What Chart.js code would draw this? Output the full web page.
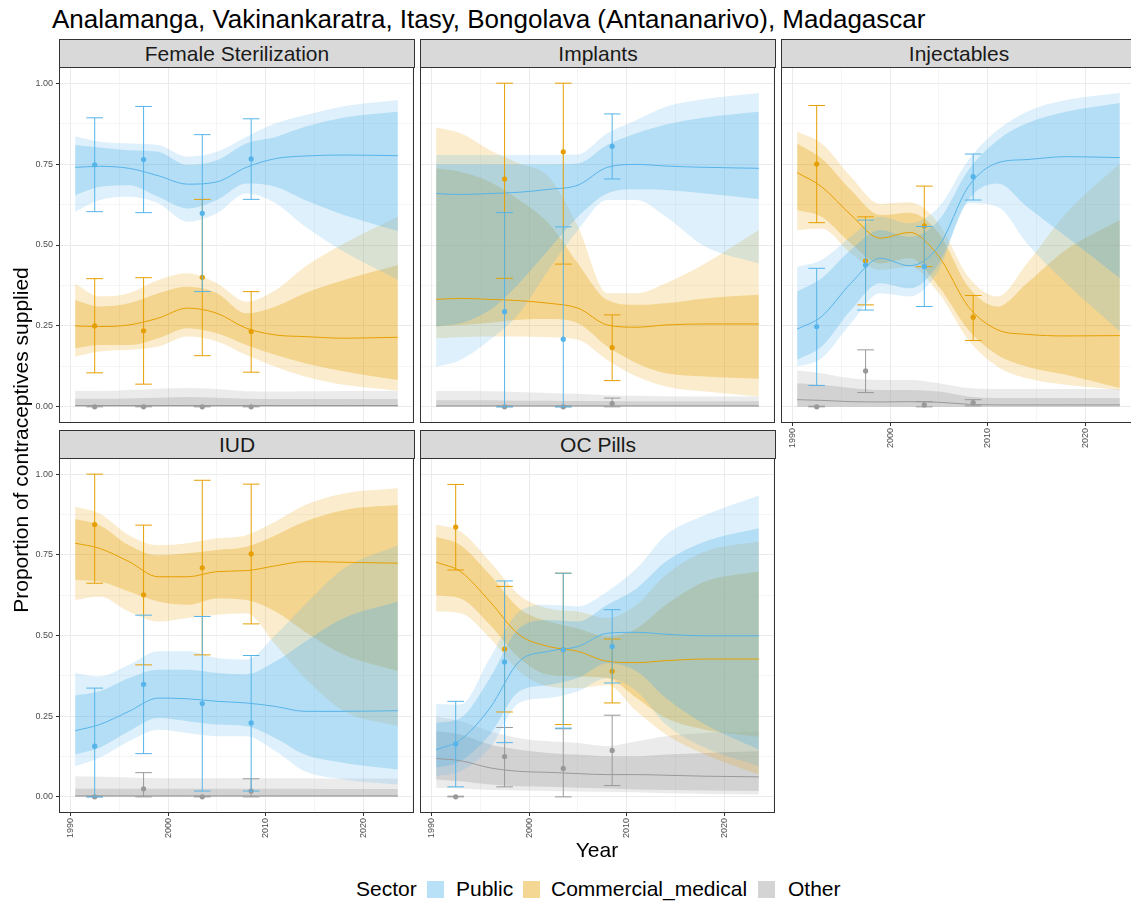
<!DOCTYPE html>
<html>
<head>
<meta charset="utf-8">
<title>Contraceptives supplied by sector</title>
<script src="https://cdn.jsdelivr.net/npm/chart.js@4.4.1/dist/chart.umd.min.js"></script>
<style>
  body { margin: 0; background: #fff; font-family: 'Liberation Sans', Arial, sans-serif; }
  #page { position: relative; width: 1131px; height: 902px; overflow: hidden; background: #fff; }
  canvas { position: absolute; }
  .strip { position: absolute; box-sizing: border-box; height: 29px; width: 356px; border: 1px solid #333; background: #d9d9d9; color: #1a1a1a; font-size: 21px; line-height: 27px; text-align: center; white-space: nowrap; overflow: hidden; }
  .txt { position: absolute; font-size: 21px; line-height: 24px; color: #000; white-space: nowrap; }
  .key { position: absolute; width: 17px; height: 17px; }
</style>
</head>
<body>
<div id="page">
  <div class="txt" style="left:52px; top:4px; font-size:26px; line-height:30px;">Analamanga, Vakinankaratra, Itasy, Bongolava (Antananarivo), Madagascar</div>

  <div class="strip" id="s1" style="left:59px; top:39px;"></div>
  <div class="strip" id="s2" style="left:420px; top:39px;"></div>
  <div class="strip" id="s3" style="left:781px; top:39px;"></div>
  <div class="strip" id="s4" style="left:59px; top:430px;"></div>
  <div class="strip" id="s5" style="left:420px; top:430px;"></div>

  <canvas id="c1" width="395" height="356" style="left:19px; top:67px;"></canvas>
  <canvas id="c2" width="355" height="356" style="left:420px; top:67px;"></canvas>
  <canvas id="c3" width="355" height="386" style="left:781px; top:67px;"></canvas>
  <canvas id="c4" width="395" height="385" style="left:19px; top:458px;"></canvas>
  <canvas id="c5" width="355" height="385" style="left:420px; top:458px;"></canvas>

  <div class="txt" style="left:-279px; top:428px; width:600px; text-align:center; transform:rotate(-90deg);">Proportion of contraceptives supplied</div>
  <div class="txt" style="left:497px; top:838px; width:200px; text-align:center;">Year</div>

  <div class="txt" style="left:356px; top:877px;">Sector</div>
  <div class="key" id="k1" style="left:427px; top:881px;"></div>
  <div class="txt" style="left:456px; top:877px;">Public</div>
  <div class="key" id="k2" style="left:523px; top:881px;"></div>
  <div class="txt" style="left:551px; top:877px;">Commercial_medical</div>
  <div class="key" id="k3" style="left:758px; top:881px;"></div>
  <div class="txt" style="left:788px; top:877px;">Other</div>
</div>

<script>
// ---- data ----
const methods = ['Female Sterilization', 'Implants', 'Injectables', 'IUD', 'OC Pills'];
const sectors = ['Public', 'Commercial_medical', 'Other'];
const years = [1990.5, 1993, 1996, 1999, 2002, 2005, 2008, 2011, 2014, 2018, 2023.5];
const surveyYears = [1992.5, 1997.5, 2003.5, 2008.5];
const yearTicks = [1990, 2000, 2010, 2020];
const propTicks = [0, 0.25, 0.5, 0.75, 1];

// Female Sterilization
const fsPubMed  = [0.740, 0.743, 0.737, 0.714, 0.688, 0.695, 0.740, 0.767, 0.775, 0.778, 0.776];
const fsPubLo80 = [0.654, 0.680, 0.685, 0.649, 0.613, 0.639, 0.690, 0.680, 0.639, 0.593, 0.543];
const fsPubHi80 = [0.809, 0.801, 0.793, 0.788, 0.747, 0.762, 0.814, 0.834, 0.865, 0.894, 0.912];
const fsPubLo95 = [0.603, 0.639, 0.649, 0.629, 0.572, 0.598, 0.659, 0.629, 0.557, 0.479, 0.392];
const fsPubHi95 = [0.836, 0.819, 0.814, 0.809, 0.773, 0.788, 0.834, 0.876, 0.901, 0.929, 0.948];
const fsComMed  = [0.250, 0.248, 0.253, 0.274, 0.305, 0.289, 0.243, 0.222, 0.217, 0.212, 0.215];
const fsComLo80 = [0.181, 0.191, 0.191, 0.212, 0.243, 0.227, 0.191, 0.160, 0.135, 0.109, 0.083];
const fsComHi80 = [0.330, 0.310, 0.320, 0.351, 0.371, 0.351, 0.289, 0.310, 0.351, 0.392, 0.438];
const fsComLo95 = [0.155, 0.171, 0.176, 0.186, 0.217, 0.202, 0.160, 0.124, 0.094, 0.068, 0.050];
const fsComHi95 = [0.380, 0.341, 0.351, 0.392, 0.413, 0.382, 0.325, 0.361, 0.433, 0.505, 0.587];
const fsOthMed  = [0.004, 0.004, 0.004, 0.004, 0.004, 0.004, 0.004, 0.004, 0.004, 0.004, 0.004];
const fsOthLo80 = [0, 0, 0, 0, 0, 0, 0, 0, 0, 0, 0];
const fsOthHi80 = [0.025, 0.025, 0.026, 0.028, 0.030, 0.028, 0.025, 0.024, 0.024, 0.024, 0.024];
const fsOthLo95 = [0, 0, 0, 0, 0, 0, 0, 0, 0, 0, 0];
const fsOthHi95 = [0.049, 0.049, 0.052, 0.056, 0.058, 0.055, 0.048, 0.047, 0.048, 0.049, 0.050];
const fsPubObs = [0.748, 0.764, 0.598, 0.766];
const fsPubLo  = [0.603, 0.600, 0.356, 0.641];
const fsPubHi  = [0.893, 0.928, 0.841, 0.890];
const fsComObs = [0.250, 0.235, 0.400, 0.233];
const fsComLo  = [0.105, 0.070, 0.158, 0.107];
const fsComHi  = [0.396, 0.399, 0.641, 0.356];
const fsOthObs = [0, 0, 0, 0];
const fsOthLo  = [0, 0, 0, 0];
const fsOthHi  = [0.003, 0.003, 0.003, 0.003];

// Implants
const impPubMed  = [0.659, 0.656, 0.659, 0.663, 0.672, 0.685, 0.740, 0.749, 0.744, 0.740, 0.737];
const impPubLo80 = [0.248, 0.258, 0.299, 0.382, 0.485, 0.587, 0.659, 0.672, 0.670, 0.659, 0.642];
const impPubHi80 = [0.749, 0.749, 0.749, 0.749, 0.749, 0.752, 0.809, 0.845, 0.872, 0.894, 0.912];
const impPubLo95 = [0.124, 0.145, 0.207, 0.289, 0.423, 0.546, 0.639, 0.639, 0.587, 0.495, 0.443];
const impPubHi95 = [0.778, 0.778, 0.778, 0.778, 0.778, 0.780, 0.845, 0.886, 0.927, 0.951, 0.970];
const impComMed  = [0.332, 0.335, 0.332, 0.328, 0.320, 0.305, 0.253, 0.246, 0.253, 0.256, 0.256];
const impComLo80 = [0.248, 0.253, 0.260, 0.269, 0.271, 0.258, 0.186, 0.135, 0.104, 0.094, 0.087];
const impComHi80 = [0.737, 0.726, 0.695, 0.639, 0.567, 0.443, 0.330, 0.315, 0.320, 0.335, 0.346];
const impComLo95 = [0.212, 0.215, 0.217, 0.217, 0.215, 0.207, 0.145, 0.094, 0.063, 0.047, 0.032];
const impComHi95 = [0.863, 0.845, 0.793, 0.752, 0.711, 0.557, 0.351, 0.351, 0.382, 0.443, 0.546];
const impOthMed  = [0.003, 0.003, 0.003, 0.003, 0.003, 0.003, 0.003, 0.003, 0.003, 0.003, 0.003];
const impOthLo80 = [0, 0, 0, 0, 0, 0, 0, 0, 0, 0, 0];
const impOthHi80 = [0.020, 0.020, 0.020, 0.019, 0.019, 0.018, 0.018, 0.017, 0.017, 0.017, 0.017];
const impOthLo95 = [0, 0, 0, 0, 0, 0, 0, 0, 0, 0, 0];
const impOthHi95 = [0.049, 0.049, 0.048, 0.046, 0.043, 0.040, 0.036, 0.034, 0.033, 0.032, 0.032];
const impPubObs = [null, 0.294, 0.209, 0.805];
const impPubLo  = [null, 0.000, 0.000, 0.704];
const impPubHi  = [null, 0.600, 0.556, 0.905];
const impComObs = [null, 0.704, 0.788, 0.183];
const impComLo  = [null, 0.397, 0.441, 0.081];
const impComHi  = [null, 1.000, 1.000, 0.284];
const impOthObs = [null, 0, 0, 0.010];
const impOthLo  = [null, 0, 0, 0];
const impOthHi  = [null, 0.002, 0.002, 0.027];

// Injectables
const injPubMed  = [0.240, 0.279, 0.382, 0.459, 0.436, 0.497, 0.680, 0.754, 0.764, 0.773, 0.770];
const injPubLo80 = [0.145, 0.186, 0.299, 0.382, 0.366, 0.443, 0.639, 0.690, 0.618, 0.526, 0.397];
const injPubHi80 = [0.356, 0.397, 0.485, 0.546, 0.525, 0.577, 0.731, 0.824, 0.876, 0.912, 0.939];
const injPubLo95 = [0.124, 0.150, 0.258, 0.351, 0.341, 0.423, 0.629, 0.618, 0.505, 0.382, 0.233];
const injPubHi95 = [0.433, 0.454, 0.526, 0.587, 0.567, 0.618, 0.762, 0.855, 0.912, 0.948, 0.970];
const injComMed  = [0.724, 0.680, 0.593, 0.521, 0.539, 0.464, 0.310, 0.238, 0.224, 0.219, 0.220];
const injComLo80 = [0.608, 0.587, 0.505, 0.443, 0.459, 0.371, 0.238, 0.160, 0.124, 0.099, 0.058];
const injComHi80 = [0.814, 0.767, 0.670, 0.593, 0.600, 0.536, 0.371, 0.310, 0.382, 0.485, 0.577];
const injComLo95 = [0.546, 0.551, 0.474, 0.423, 0.433, 0.351, 0.207, 0.124, 0.088, 0.068, 0.052];
const injComHi95 = [0.850, 0.814, 0.711, 0.627, 0.632, 0.565, 0.402, 0.341, 0.443, 0.598, 0.752];
const injOthMed  = [0.022, 0.020, 0.016, 0.015, 0.016, 0.014, 0.008, 0.006, 0.006, 0.006, 0.006];
const injOthLo80 = [0, 0, 0, 0, 0, 0, 0, 0, 0, 0, 0];
const injOthHi80 = [0.073, 0.068, 0.058, 0.052, 0.052, 0.047, 0.032, 0.027, 0.027, 0.027, 0.027];
const injOthLo95 = [0, 0, 0, 0, 0, 0, 0, 0, 0, 0, 0];
const injOthHi95 = [0.112, 0.104, 0.088, 0.083, 0.083, 0.073, 0.058, 0.055, 0.055, 0.055, 0.055];
const injPubObs = [0.248, 0.438, 0.433, 0.711];
const injPubLo  = [0.066, 0.299, 0.310, 0.639];
const injPubHi  = [0.428, 0.577, 0.557, 0.781];
const injComObs = [0.750, 0.451, 0.559, 0.277];
const injComLo  = [0.569, 0.315, 0.433, 0.205];
const injComHi  = [0.931, 0.587, 0.682, 0.344];
const injOthObs = [0, 0.111, 0.006, 0.013];
const injOthLo  = [0, 0.044, 0, 0.003];
const injOthHi  = [0.002, 0.176, 0.016, 0.022];

// IUD
const iudPubMed  = [0.205, 0.224, 0.265, 0.306, 0.304, 0.296, 0.291, 0.280, 0.265, 0.265, 0.267];
const iudPubLo80 = [0.131, 0.152, 0.203, 0.244, 0.234, 0.224, 0.219, 0.182, 0.131, 0.105, 0.085];
const iudPubHi80 = [0.314, 0.327, 0.368, 0.394, 0.394, 0.384, 0.380, 0.420, 0.481, 0.554, 0.605];
const iudPubLo95 = [0.095, 0.121, 0.172, 0.208, 0.198, 0.188, 0.188, 0.141, 0.079, 0.054, 0.038];
const iudPubHi95 = [0.384, 0.373, 0.409, 0.451, 0.451, 0.430, 0.425, 0.502, 0.595, 0.708, 0.780];
const iudComMed  = [0.786, 0.770, 0.729, 0.682, 0.682, 0.698, 0.701, 0.716, 0.729, 0.727, 0.724];
const iudComLo80 = [0.672, 0.667, 0.636, 0.605, 0.595, 0.615, 0.610, 0.574, 0.512, 0.440, 0.389];
const iudComHi80 = [0.861, 0.842, 0.780, 0.749, 0.755, 0.765, 0.775, 0.811, 0.853, 0.889, 0.904];
const iudComLo95 = [0.610, 0.621, 0.574, 0.543, 0.554, 0.564, 0.569, 0.471, 0.368, 0.265, 0.219];
const iudComHi95 = [0.899, 0.878, 0.811, 0.780, 0.786, 0.801, 0.811, 0.853, 0.904, 0.940, 0.956];
const iudOthMed  = [0.003, 0.003, 0.003, 0.003, 0.003, 0.003, 0.003, 0.003, 0.003, 0.003, 0.003];
const iudOthLo80 = [0, 0, 0, 0, 0, 0, 0, 0, 0, 0, 0];
const iudOthHi80 = [0.025, 0.025, 0.025, 0.025, 0.025, 0.025, 0.025, 0.025, 0.025, 0.024, 0.024];
const iudOthLo95 = [0, 0, 0, 0, 0, 0, 0, 0, 0, 0, 0];
const iudOthHi95 = [0.064, 0.062, 0.060, 0.058, 0.058, 0.058, 0.058, 0.058, 0.058, 0.057, 0.057];
const iudPubObs = [0.157, 0.349, 0.289, 0.229];
const iudPubLo  = [0.000, 0.134, 0.018, 0.018];
const iudPubHi  = [0.337, 0.563, 0.559, 0.438];
const iudComObs = [0.844, 0.626, 0.710, 0.753];
const iudComLo  = [0.662, 0.409, 0.440, 0.536];
const iudComHi  = [1.000, 0.842, 0.981, 0.969];
const iudOthObs = [0, 0.025, 0, 0.018];
const iudOthLo  = [0, 0, 0, 0];
const iudOthHi  = [0.002, 0.075, 0.002, 0.056];

// OC Pills
const ocPubMed  = [0.146, 0.177, 0.275, 0.420, 0.451, 0.466, 0.507, 0.510, 0.504, 0.499, 0.499];
const ocPubLo80 = [0.090, 0.110, 0.193, 0.327, 0.347, 0.368, 0.414, 0.389, 0.306, 0.224, 0.146];
const ocPubHi80 = [0.229, 0.244, 0.368, 0.523, 0.548, 0.543, 0.595, 0.646, 0.729, 0.791, 0.832];
const ocPubLo95 = [0.064, 0.079, 0.152, 0.291, 0.306, 0.327, 0.368, 0.327, 0.224, 0.152, 0.095];
const ocPubHi95 = [0.288, 0.286, 0.430, 0.574, 0.595, 0.590, 0.636, 0.708, 0.811, 0.873, 0.934];
const ocComMed  = [0.727, 0.698, 0.605, 0.502, 0.466, 0.451, 0.420, 0.416, 0.422, 0.427, 0.427];
const ocComLo80 = [0.624, 0.615, 0.533, 0.430, 0.378, 0.373, 0.368, 0.306, 0.244, 0.208, 0.186];
const ocComHi80 = [0.806, 0.780, 0.688, 0.584, 0.543, 0.522, 0.497, 0.522, 0.595, 0.667, 0.698];
const ocComLo95 = [0.574, 0.569, 0.492, 0.389, 0.342, 0.337, 0.347, 0.265, 0.193, 0.131, 0.069];
const ocComHi95 = [0.844, 0.822, 0.729, 0.625, 0.584, 0.574, 0.554, 0.595, 0.688, 0.760, 0.791];
const ocOthMed  = [0.119, 0.112, 0.090, 0.079, 0.076, 0.072, 0.069, 0.069, 0.067, 0.064, 0.062];
const ocOthLo80 = [0.054, 0.048, 0.038, 0.033, 0.031, 0.028, 0.026, 0.023, 0.021, 0.020, 0.018];
const ocOthHi80 = [0.203, 0.193, 0.162, 0.146, 0.136, 0.131, 0.126, 0.126, 0.131, 0.136, 0.141];
const ocOthLo95 = [0.028, 0.026, 0.021, 0.020, 0.018, 0.017, 0.016, 0.014, 0.011, 0.009, 0.007];
const ocOthHi95 = [0.249, 0.234, 0.203, 0.182, 0.172, 0.167, 0.157, 0.172, 0.188, 0.198, 0.203];
const ocPubObs = [0.164, 0.418, 0.456, 0.466];
const ocPubLo  = [0.031, 0.168, 0.213, 0.353];
const ocPubHi  = [0.296, 0.669, 0.693, 0.580];
const ocComObs = [0.836, 0.458, 0.456, 0.389];
const ocComLo  = [0.703, 0.263, 0.224, 0.291];
const ocComHi  = [0.968, 0.652, 0.693, 0.489];
const ocOthObs = [0, 0.125, 0.088, 0.144];
const ocOthLo  = [0, 0.031, 0, 0.035];
const ocOthHi  = [0.002, 0.215, 0.211, 0.253];

// ---- styling ----
const sectorColors = ['86,180,233', '230,159,0', '153,153,153'];
const outerAlpha = 0.2;
const innerAlpha = 0.3;
const capHalf = 0.85; // half width of error bar caps, in years
const fontFamily = "'Liberation Sans', Arial, sans-serif";

function rgba(c, a) { return 'rgba(' + c + ',' + a + ')'; }

function toXY(xs, ys) {
    return xs.map((x, i) => ({ x: x, y: ys[i] }));
}

function errorBarData(obs, lo, hi) {
    const pts = [];
    surveyYears.forEach((yr, i) => {
        if (obs[i] === null) return;
        pts.push({ x: yr, y: lo[i] }, { x: yr, y: hi[i] }, { x: yr, y: null });
        pts.push({ x: yr - capHalf, y: hi[i] }, { x: yr + capHalf, y: hi[i] }, { x: yr, y: null });
        pts.push({ x: yr - capHalf, y: lo[i] }, { x: yr + capHalf, y: lo[i] }, { x: yr, y: null });
    });
    return pts;
}

function series(med, lo80, hi80, lo95, hi95, obs, lo, hi) {
    return { med, lo80, hi80, lo95, hi95, obs, lo, hi };
}

const panels = [
    [series(fsPubMed, fsPubLo80, fsPubHi80, fsPubLo95, fsPubHi95, fsPubObs, fsPubLo, fsPubHi),
     series(fsComMed, fsComLo80, fsComHi80, fsComLo95, fsComHi95, fsComObs, fsComLo, fsComHi),
     series(fsOthMed, fsOthLo80, fsOthHi80, fsOthLo95, fsOthHi95, fsOthObs, fsOthLo, fsOthHi)],
    [series(impPubMed, impPubLo80, impPubHi80, impPubLo95, impPubHi95, impPubObs, impPubLo, impPubHi),
     series(impComMed, impComLo80, impComHi80, impComLo95, impComHi95, impComObs, impComLo, impComHi),
     series(impOthMed, impOthLo80, impOthHi80, impOthLo95, impOthHi95, impOthObs, impOthLo, impOthHi)],
    [series(injPubMed, injPubLo80, injPubHi80, injPubLo95, injPubHi95, injPubObs, injPubLo, injPubHi),
     series(injComMed, injComLo80, injComHi80, injComLo95, injComHi95, injComObs, injComLo, injComHi),
     series(injOthMed, injOthLo80, injOthHi80, injOthLo95, injOthHi95, injOthObs, injOthLo, injOthHi)],
    [series(iudPubMed, iudPubLo80, iudPubHi80, iudPubLo95, iudPubHi95, iudPubObs, iudPubLo, iudPubHi),
     series(iudComMed, iudComLo80, iudComHi80, iudComLo95, iudComHi95, iudComObs, iudComLo, iudComHi),
     series(iudOthMed, iudOthLo80, iudOthHi80, iudOthLo95, iudOthHi95, iudOthObs, iudOthLo, iudOthHi)],
    [series(ocPubMed, ocPubLo80, ocPubHi80, ocPubLo95, ocPubHi95, ocPubObs, ocPubLo, ocPubHi),
     series(ocComMed, ocComLo80, ocComHi80, ocComLo95, ocComHi95, ocComObs, ocComLo, ocComHi),
     series(ocOthMed, ocOthLo80, ocOthHi80, ocOthLo95, ocOthHi95, ocOthObs, ocOthLo, ocOthHi)]
];

// which panels carry tick labels: [y labels, x labels]
const axisLabels = [[true, false], [false, false], [false, true], [true, true], [false, true]];

function bandPair(ds, lo, hi, color, alpha) {
    const base = ds.length;
    ds.push({ data: toXY(years, lo), borderColor: 'rgba(0,0,0,0)', borderWidth: 0, pointRadius: 0,
              fill: false, cubicInterpolationMode: 'monotone' });
    ds.push({ data: toXY(years, hi), borderColor: 'rgba(0,0,0,0)', borderWidth: 0, pointRadius: 0,
              fill: base, backgroundColor: rgba(color, alpha), cubicInterpolationMode: 'monotone' });
}

function buildDatasets(list) {
    const ds = [];
    // first in the list is drawn last, so error bars and points go first
    list.forEach((s, k) => {
        const c = rgba(sectorColors[k], 1);
        ds.push({ data: errorBarData(s.obs, s.lo, s.hi), borderColor: c, borderWidth: 1,
                  pointRadius: 0, fill: false, tension: 0, spanGaps: false });
        ds.push({ data: toXY(surveyYears, s.obs), showLine: false, pointRadius: 2.6, pointBorderWidth: 0,
                  pointBackgroundColor: c, backgroundColor: c, borderColor: c, fill: false });
    });
    list.forEach((s, k) => {
        ds.push({ data: toXY(years, s.med), borderColor: rgba(sectorColors[k], 1), borderWidth: 1,
                  pointRadius: 0, fill: false, cubicInterpolationMode: 'monotone' });
    });
    list.forEach((s, k) => {
        bandPair(ds, s.lo95, s.hi95, sectorColors[k], outerAlpha);
        bandPair(ds, s.lo80, s.hi80, sectorColors[k], innerAlpha);
    });
    return ds;
}

const panelBorder = {
    id: 'panelBorder',
    afterDraw(chart) {
        const a = chart.chartArea, ctx = chart.ctx;
        ctx.save();
        ctx.strokeStyle = '#333333';
        ctx.lineWidth = 1;
        ctx.strokeRect(a.left + 0.5, a.top + 0.5, a.right - a.left - 1, a.bottom - a.top - 1);
        ctx.restore();
    }
};

function isMajorYear(v) { return yearTicks.includes(v); }
function isMajorProp(v) { return propTicks.includes(v); }

function panelOptions(showY, showX) {
    return {
        responsive: false,
        animation: false,
        devicePixelRatio: 1,
        layout: { padding: 0, autoPadding: false },
        plugins: { legend: { display: false }, tooltip: { enabled: false }, title: { display: false } },
        scales: {
            x: {
                type: 'linear', min: 1988.85, max: 2025.15,
                border: { display: false },
                grid: {
                    color: '#ebebeb',
                    lineWidth: ctx => (ctx.tick && isMajorYear(ctx.tick.value)) ? 1 : 0.5,
                    drawTicks: showX, tickLength: 3, tickWidth: 1,
                    tickColor: ctx => (ctx.tick && isMajorYear(ctx.tick.value)) ? '#333333' : 'rgba(0,0,0,0)'
                },
                ticks: {
                    display: showX, stepSize: 5, includeBounds: false, autoSkip: false,
                    minRotation: 90, maxRotation: 90, padding: 2, color: '#4d4d4d',
                    font: { size: 9, family: fontFamily },
                    callback: v => isMajorYear(v) ? String(v) : ''
                },
                afterFit: s => { s.height = showX ? 30 : 0; s.paddingLeft = 0; s.paddingRight = 0; }
            },
            y: {
                type: 'linear', min: -0.05, max: 1.05,
                border: { display: false },
                grid: {
                    color: '#ebebeb',
                    lineWidth: ctx => (ctx.tick && isMajorProp(ctx.tick.value)) ? 1 : 0.5,
                    drawTicks: showY, tickLength: 3, tickWidth: 1,
                    tickColor: ctx => (ctx.tick && isMajorProp(ctx.tick.value)) ? '#333333' : 'rgba(0,0,0,0)'
                },
                ticks: {
                    display: showY, stepSize: 0.125, includeBounds: false, autoSkip: false,
                    padding: 3, color: '#4d4d4d', font: { size: 9, family: fontFamily },
                    callback: v => isMajorProp(v) ? v.toFixed(2) : ''
                },
                afterFit: s => { s.width = showY ? 40 : 0; s.paddingTop = 0; s.paddingBottom = 0; }
            }
        }
    };
}

document.addEventListener('DOMContentLoaded', function () {
    methods.forEach((m, i) => {
        document.getElementById('s' + (i + 1)).textContent = m;
        const [showY, showX] = axisLabels[i];
        new Chart(document.getElementById('c' + (i + 1)), {
            type: 'line',
            data: { datasets: buildDatasets(panels[i]) },
            options: panelOptions(showY, showX),
            plugins: [panelBorder]
        });
    });
    sectors.forEach((s, k) => {
        document.getElementById('k' + (k + 1)).style.background = rgba(sectorColors[k], 0.42);
    });
});
</script>
</body>
</html>
